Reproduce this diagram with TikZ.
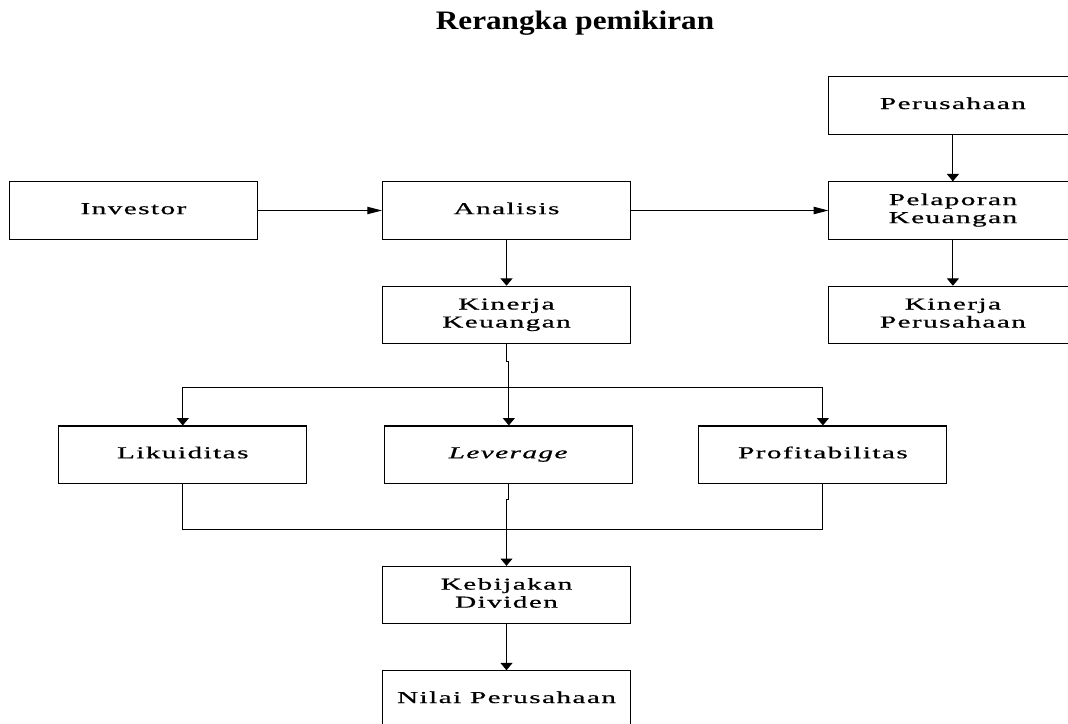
\documentclass[tikz,border=0pt]{standalone}
\usepackage{fontspec}
\usepackage{graphicx}
\usepackage{tikz}
\usetikzlibrary{positioning,arrows.meta}
\newfontfamily\boxfont[LetterSpace=5,FakeBold=0.6]{Liberation Serif}
\newfontfamily\titlefont{Liberation Serif}
\newcommand\boxtext[1]{\scalebox{1.75}[1]{\begin{tabular}{@{}c@{}}#1\end{tabular}}}
\tikzset{
  box/.style={draw, line width=0.8pt, minimum width=186pt, minimum height=43pt,
    inner sep=0pt, align=center, font={\boxfont\fontsize{12.5}{13.5}\selectfont}},
  harr/.style={line width=0.8pt, -{Triangle[length=11pt, width=5.5pt]}},
  varr/.style={line width=0.8pt, -{Triangle[length=5.5pt, width=9pt]}},
  link/.style={line width=0.8pt}
}

\begin{document}
\begin{tikzpicture}[x=0.75pt, y=-0.75pt]

  \clip (0,0) rectangle (1068,724);

  % Title
  \node[anchor=base, font={\titlefont\bfseries\fontsize{20}{23}\selectfont}] (title) at (575,30) {\scalebox{1.17}[1]{Rerangka pemikiran}};

  % Define nodes
  \node[box] (analisis) at (506.5,210.5) {\boxtext{Analisis}};
  \node[box, left=93pt of analisis] (investor) {\boxtext{Investor}};
  \node[box, right=148pt of analisis] (pelaporan) {\boxtext{Pelaporan\\Keuangan}};
  \node[box, above=35pt of pelaporan] (perusahaan) {\boxtext{Perusahaan}};
  \node[box, below=34.5pt of pelaporan] (kinerjap) {\boxtext{Kinerja\\Perusahaan}};
  \node[box, below=34.5pt of analisis] (kinerjak) {\boxtext{Kinerja\\Keuangan}};
  \node[box, below=61pt of kinerjak, xshift=1.75pt] (leverage) {\boxtext{\textit{Leverage}}};
  \node[box, left=57.75pt of leverage] (likuiditas) {\boxtext{Likuiditas}};
  \node[box, right=48.75pt of leverage] (profit) {\boxtext{Profitabilitas}};
  \node[box, below=61.5pt of leverage, xshift=-1.75pt] (kebijakan) {\boxtext{Kebijakan\\Dividen}};
  \node[box, below=34.5pt of kebijakan] (nilai) {\boxtext{Nilai Perusahaan}};

  % Branch and join points
  \coordinate[below=32.25pt of kinerjak.south] (split);
  \coordinate[below=34.5pt of leverage.south] (join);

  % Connect the nodes
  \draw[harr] (investor) -- (analisis);
  \draw[harr] (analisis) -- (pelaporan);
  \draw[varr] (perusahaan) -- (pelaporan);
  \draw[varr] (pelaporan) -- (kinerjap);
  \draw[varr] (analisis) -- (kinerjak);
  \draw[varr] (kinerjak.south) -- ++(0,17) -| (leverage.north);
  \draw[link] (split -| likuiditas.north) -- (split -| profit.north);
  \draw[varr] (split -| likuiditas.north) -- (likuiditas.north);
  \draw[varr] (split -| profit.north) -- (profit.north);
  \draw[link] (likuiditas.south) |- (join -| profit.south) -- (profit.south);
  \draw[varr] (leverage.south) -- ++(0,16) -| (kebijakan.north);
  \draw[varr] (kebijakan) -- (nilai);

\end{tikzpicture}
\end{document}
